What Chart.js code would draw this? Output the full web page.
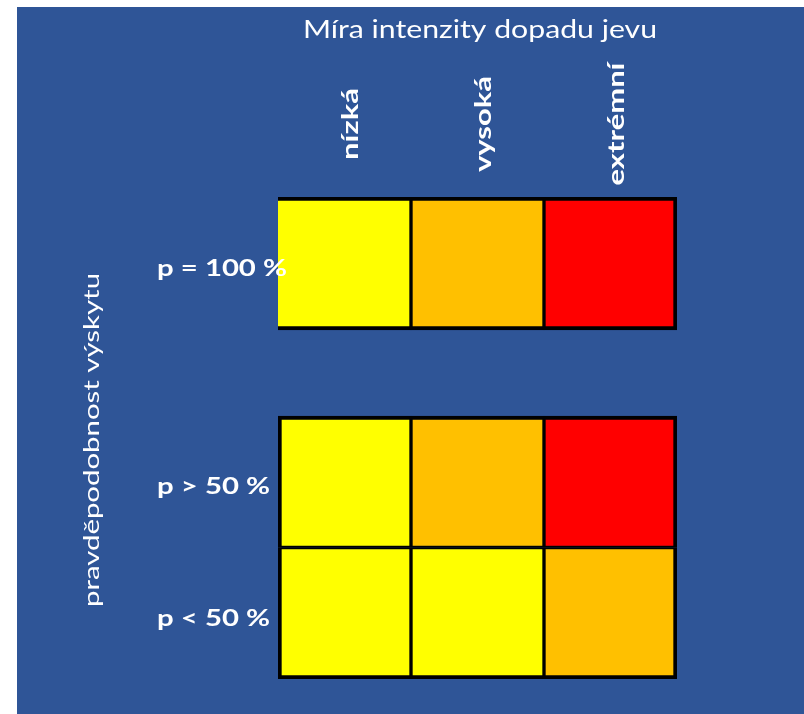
<!DOCTYPE html>
<html><head><meta charset="utf-8">
<script src="https://cdn.jsdelivr.net/npm/chart.js@4.4.1/dist/chart.umd.min.js"></script>
<style>html,body{margin:0;padding:0;background:#fff;overflow:hidden}#wrap{position:absolute;left:0;top:0;width:804px;height:714px}</style>
</head><body><div id="wrap"><canvas id="c"></canvas></div>
<script>
const chartTitle = 'Míra intenzity dopadu jevu';
const yTitle = 'pravděpodobnost výskytu';
const categories = ['nízká', 'vysoká', 'extrémní'];
const rowLabels = ['p = 100 %', 'p > 50 %', 'p < 50 %'];
const rowBands = [[2.654, 3.665], [1, 2], [0, 1]];
const riskRow100 = [1, 2, 3];
const riskRowOver50 = [1, 2, 3];
const riskRowUnder50 = [1, 1, 2];
const riskColors = {1: '#FFFF00', 2: '#FFC000', 3: '#FF0000'};

const riskRows = [riskRow100, riskRowOver50, riskRowUnder50];
const FONT = 'Lato, "Liberation Sans", sans-serif';
const BLUE = '#2F5597';

function borderFor(ctx) {
  const i = ctx.dataIndex, r = ctx.datasetIndex;
  const last = categories.length - 1;
  return {
    left: i === 0 ? (r === 0 ? 0 : 4) : 2,
    right: i === last ? 4 : 2,
    top: (r === 0 || r === 1) ? 4 : 2,
    bottom: (r === 0 || r === 2) ? 4 : 2
  };
}

const datasets = rowLabels.map((lab, r) => ({
  label: lab,
  data: categories.map(() => rowBands[r]),
  backgroundColor: riskRows[r].map(l => riskColors[l]),
  borderColor: '#000000',
  borderWidth: borderFor,
  borderSkipped: false,
  grouped: false,
  barPercentage: 1,
  categoryPercentage: 1
}));

const bgPlugin = {
  id: 'bg',
  beforeDraw(chart) {
    const c = chart.ctx;
    c.save();
    c.fillStyle = '#FFFFFF';
    c.fillRect(0, 0, chart.width, chart.height);
    c.fillStyle = BLUE;
    c.fillRect(17, 7, chart.width - 17, chart.height - 7);
    c.restore();
  }
};

// draw text at (x,y) with rotation, stretched along its direction by sx
function drawText(c, text, x, y, rot, sx, align, baseline) {
  c.save();
  c.translate(x, y);
  if (rot) c.rotate(rot);
  c.scale(sx, 1);
  c.textAlign = align;
  c.textBaseline = baseline;
  c.fillText(text, 0, 0);
  c.restore();
}

const textPlugin = {
  id: 'texts',
  afterDraw(chart) {
    const c = chart.ctx;
    const xs = chart.scales.x, ys = chart.scales.y;
    c.save();
    c.fillStyle = '#FFFFFF';
    // title
    c.font = '25px ' + FONT;
    let sx = 354 / c.measureText(chartTitle).width;
    drawText(c, chartTitle, 480, 38, 0, sx, 'center', 'alphabetic');
    // y title
    c.font = '21px ' + FONT;
    sx = 334 / c.measureText(yTitle).width;
    drawText(c, yTitle, 92, 440, -Math.PI / 2, sx, 'center', 'middle');
    // column labels
    c.font = 'bold 22px ' + FONT;
    sx = 123 / c.measureText(categories[categories.length - 1]).width;
    categories.forEach((cat, i) => {
      drawText(c, cat, xs.getPixelForValue(i) + 6, 124, -Math.PI / 2, sx, 'center', 'middle');
    });
    // row labels
    c.font = 'bold 23.5px ' + FONT;
    sx = 130 / c.measureText(rowLabels[0]).width;
    rowLabels.forEach((lab, r) => {
      const mid = (rowBands[r][0] + rowBands[r][1]) / 2;
      drawText(c, lab, 157, ys.getPixelForValue(mid) + 12.5, 0, sx, 'left', 'alphabetic');
    });
    c.restore();
  }
};

new Chart(document.getElementById('c'), {
  type: 'bar',
  data: {labels: categories, datasets},
  options: {
    responsive: true,
    maintainAspectRatio: false,
    animation: false,
    layout: {padding: {left: 278, right: 127, top: 197, bottom: 35}},
    scales: {
      x: {display: false, offset: true},
      y: {display: false, min: 0, max: 3.665}
    },
    plugins: {legend: {display: false}, tooltip: {enabled: false}, title: {display: false}}
  },
  plugins: [bgPlugin, textPlugin]
});
</script>
</body></html>
